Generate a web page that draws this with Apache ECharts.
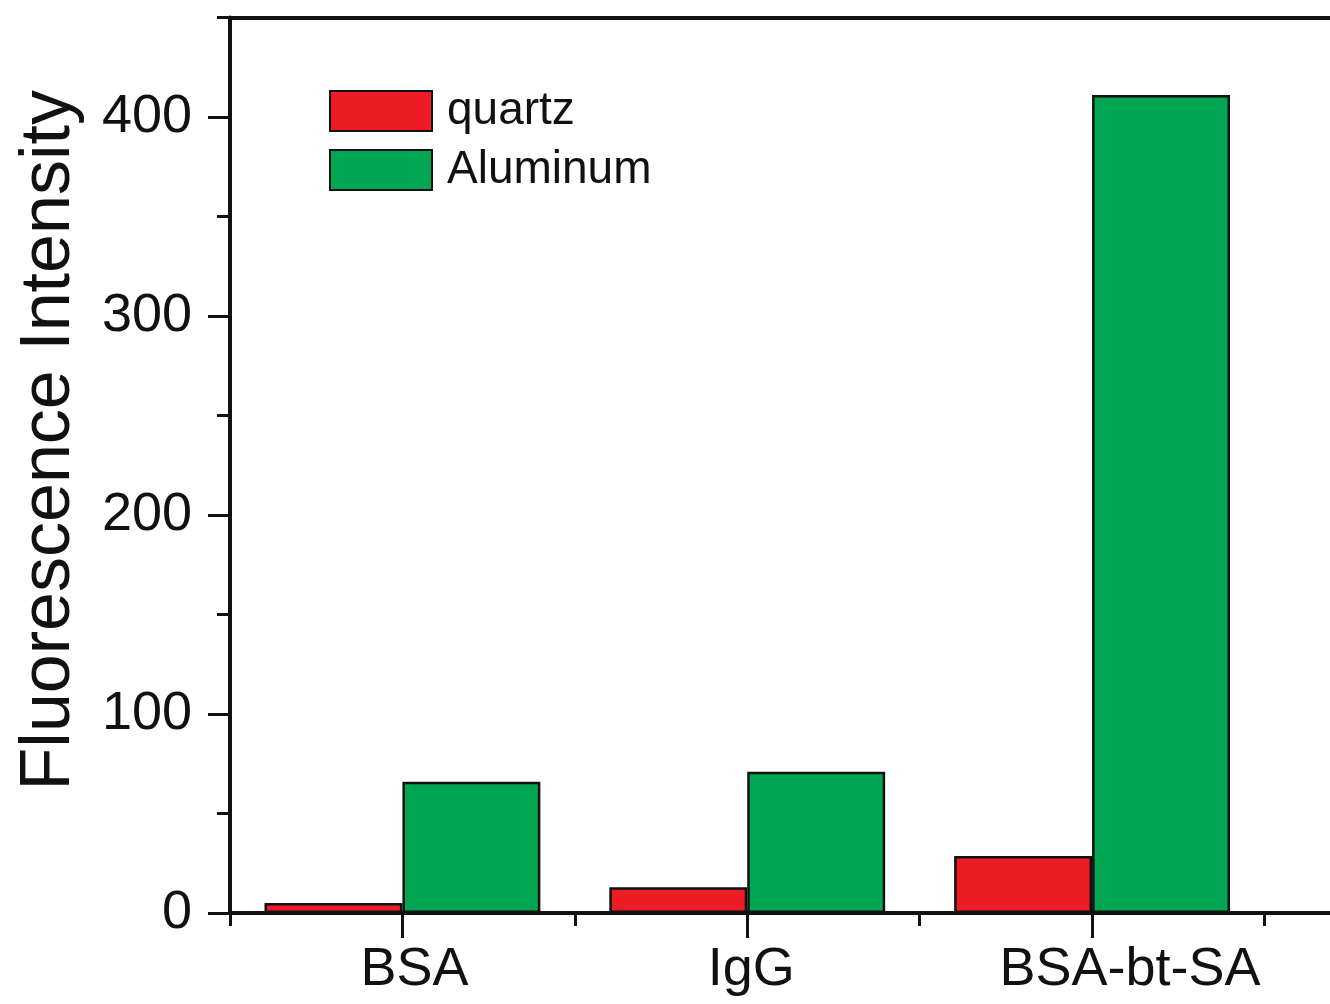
<!DOCTYPE html>
<html>
<head>
<meta charset="utf-8">
<script src="https://cdn.jsdelivr.net/npm/echarts@6/dist/echarts.min.js"></script>
<style>
html,body{margin:0;padding:0;background:#fff;}
#chart{width:1330px;height:1004px;}
</style>
</head>
<body>
<div id="chart"></div>
<script>
const categories = ['BSA', 'IgG', 'BSA-bt-SA']
const quartz = [5, 13, 28.6]
const aluminum = [66, 71, 411]
const yTicks = [0, 100, 200, 300, 400]

// categories sit at x = 1, 2, 3 on a value axis so the frame can run past the crop
const centers = categories.map((c, i) => i + 1)
const bounds = [0.5].concat(centers.map(v => v + 0.5))

const chart = echarts.init(document.getElementById('chart'))
const font = 'Liberation Sans, Arial, sans-serif'
const black = '#111'

// the original labels sit a little right of their ticks
const labelStyle = (pad) => ({ fontFamily: font, fontSize: 54, color: black, padding: [0, 0, 0, pad] })

const option = {
  backgroundColor: '#fff',
  animation: false,
  grid: {
    left: 230,
    top: 17.5,
    bottom: 91,
    right: 0,
    outerBoundsMode: 'none',
    containLabel: false
  },
  legend: {
    orient: 'vertical',
    left: 324,
    top: 83,
    itemWidth: 102,
    itemHeight: 40,
    itemGap: 13,
    icon: 'rect',
    textStyle: { fontFamily: font, fontSize: 46, color: black, padding: [0, 0, 0, 10] },
    data: ['quartz', 'Aluminum']
  },
  xAxis: [{
    type: 'value',
    min: 0.5,
    max: 3.69,
    splitLine: { show: false },
    axisLine: { show: true, lineStyle: { color: black, width: 4 } },
    axisTick: { show: true, customValues: centers, length: 25, lineStyle: { color: black, width: 3 } },
    axisLabel: {
      customValues: centers,
      margin: 30,
      fontFamily: font,
      fontSize: 54,
      color: black,
      formatter: v => {
        const i = Math.round(v) - 1
        return categories[i] ? '{c' + i + '|' + categories[i] + '}' : ''
      },
      rich: { c0: labelStyle(24), c1: labelStyle(8), c2: labelStyle(76) }
    }
  }, {
    type: 'value',
    min: 0.5,
    max: 3.69,
    position: 'bottom',
    splitLine: { show: false },
    axisLine: { show: false },
    axisTick: { show: true, customValues: bounds, length: 13, lineStyle: { color: black, width: 3 } },
    axisLabel: { show: false }
  }, {
    type: 'value',
    min: 0.5,
    max: 3.69,
    position: 'top',
    splitLine: { show: false },
    axisLine: { show: true, lineStyle: { color: black, width: 4 } },
    axisTick: { show: false },
    axisLabel: { show: false }
  }],
  yAxis: [{
    type: 'value',
    min: 0,
    max: 450,
    name: 'Fluorescence Intensity',
    nameLocation: 'middle',
    nameGap: 145,
    nameTextStyle: { fontFamily: font, fontSize: 70, color: black, padding: [0, 0, 0, 50] },
    splitLine: { show: false },
    axisLine: { show: true, lineStyle: { color: black, width: 4 } },
    axisTick: { show: true, customValues: yTicks, length: 22, lineStyle: { color: black, width: 3 } },
    axisLabel: { customValues: yTicks, margin: 38, fontFamily: font, fontSize: 54, color: black }
  }, {
    type: 'value',
    min: 0,
    max: 450,
    interval: 50,
    position: 'left',
    splitLine: { show: false },
    axisLine: { show: false },
    axisTick: { show: true, length: 13, lineStyle: { color: black, width: 3 } },
    axisLabel: { show: false }
  }],
  series: [{
    name: 'quartz',
    type: 'bar',
    barCategoryGap: '20%',
    barGap: '0%',
    data: quartz.map((v, i) => [centers[i], v]),
    itemStyle: { color: '#ED1C24', borderColor: black, borderWidth: 2.5 }
  }, {
    name: 'Aluminum',
    type: 'bar',
    barCategoryGap: '20%',
    barGap: '0%',
    data: aluminum.map((v, i) => [centers[i], v]),
    itemStyle: { color: '#00A651', borderColor: black, borderWidth: 2.5 }
  }]
}
chart.setOption(option, true)
</script>
</body>
</html>
